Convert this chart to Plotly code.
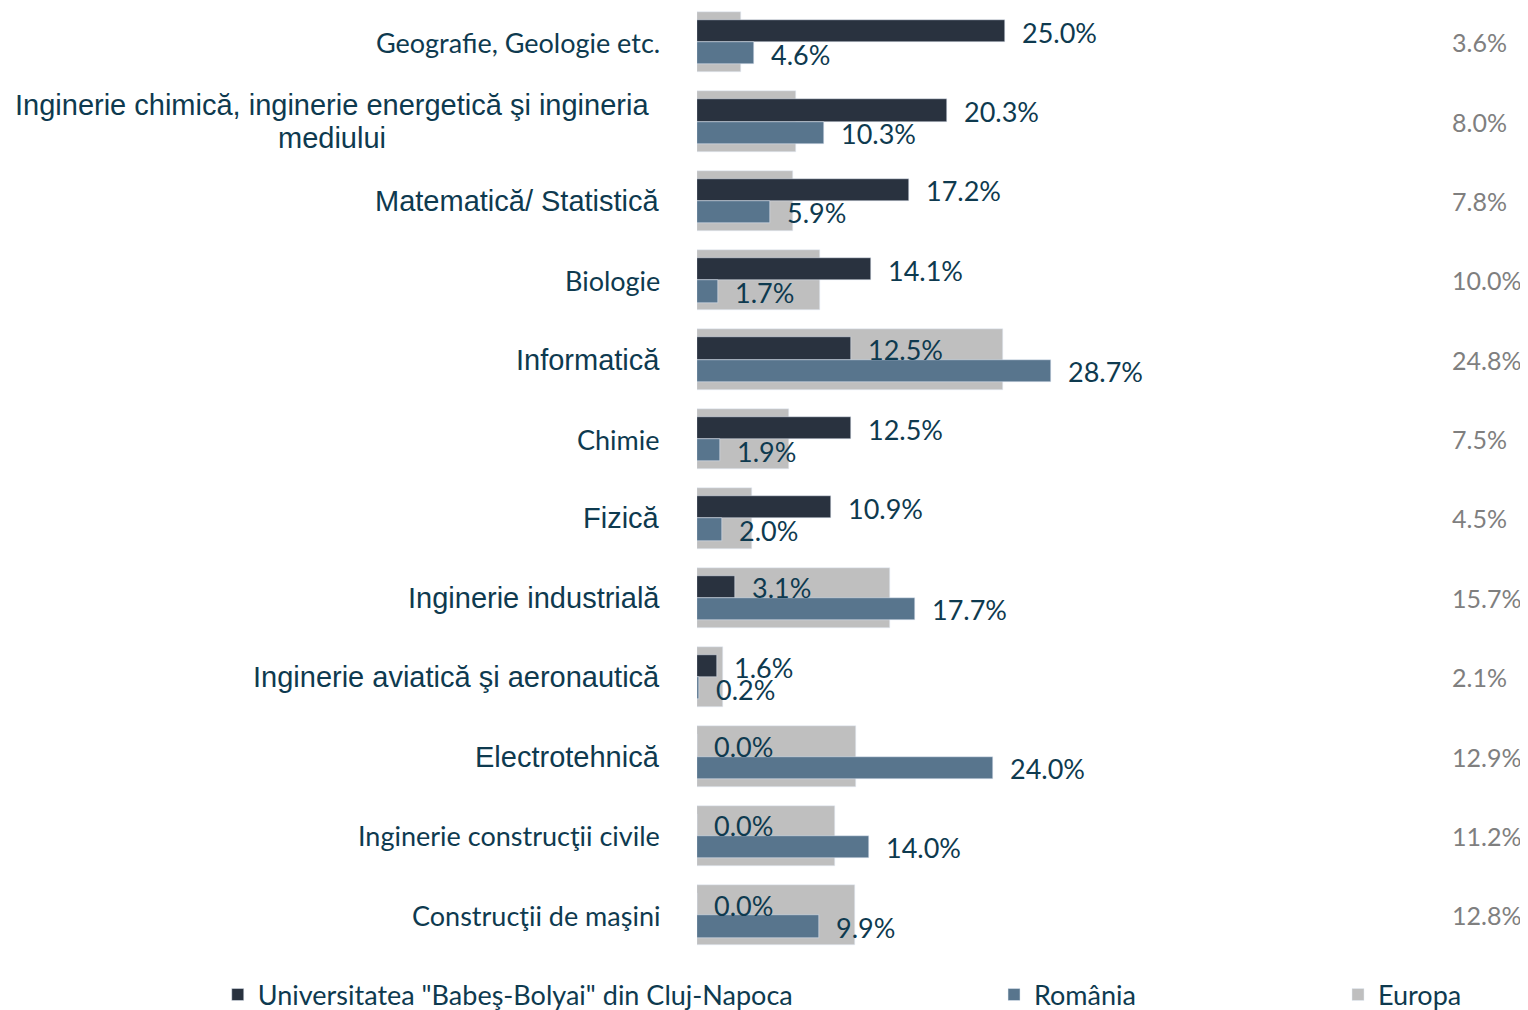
import plotly.graph_objects as go

# categories top to bottom
categories = [
    "Geografie, Geologie etc.",
    "Inginerie chimică, inginerie energetică şi ingineria<br>mediului",
    "Matematică/ Statistică",
    "Biologie",
    "Informatică",
    "Chimie",
    "Fizică",
    "Inginerie industrială",
    "Inginerie aviatică şi aeronautică",
    "Electrotehnică",
    "Inginerie construcţii civile",
    "Construcţii de maşini",
]
# labels that were set in Arial in the original
arial_label = [False, True, True, False, True, False, True, True, True, True, False, False]

ubb = [25.0, 20.3, 17.2, 14.1, 12.5, 12.5, 10.9, 3.1, 1.6, 0.0, 0.0, 0.0]
romania = [4.6, 10.3, 5.9, 1.7, 28.7, 1.9, 2.0, 17.7, 0.2, 24.0, 14.0, 9.9]
europa = [3.6, 8.0, 7.8, 10.0, 24.8, 7.5, 4.5, 15.7, 2.1, 12.9, 11.2, 12.8]

series_names = ['Universitatea "Babeş-Bolyai" din Cluj-Napoca', "România", "Europa"]

c_ubb = "#29323f"
c_ro = "#58758d"
c_eu = "#bfbfbf"
c_text = "#0e3a4f"
calibri = "Lato"
arial = "Liberation Sans"

fig = go.Figure()

fig.add_trace(go.Bar(y=categories, x=europa, orientation="h", name=series_names[2],
                     marker_color=c_eu, width=0.76, offset=-0.38, legend="legend3"))
fig.add_trace(go.Bar(y=categories, x=ubb, orientation="h", name=series_names[0],
                     marker_color=c_ubb, width=0.28, offset=-0.28, legend="legend"))
fig.add_trace(go.Bar(y=categories, x=romania, orientation="h", name=series_names[1],
                     marker_color=c_ro, width=0.28, offset=0.0, legend="legend2"))

annotations = []
for cat, a, u, r, e in zip(categories, arial_label, ubb, romania, europa):
    lab_font = dict(family=arial if a else calibri, size=29 if a else 27, color=c_text)
    # category label (two-line label is split so the line gap stays tight)
    lines = cat.split("<br>")
    if len(lines) == 1:
        annotations.append(dict(
            x=-0.042, xref="paper", y=cat, yref="y", text=cat, showarrow=False,
            xanchor="right", font=lab_font))
    else:
        for line, shift in zip(lines, [17, -16]):
            annotations.append(dict(
                x=-0.4392, xref="paper", y=cat, yref="y", text=line, showarrow=False,
                xanchor="center", yshift=shift, font=lab_font))
    # value labels
    annotations.append(dict(
        x=u, y=cat, text=f"{u:.1f}%", showarrow=False, xanchor="left",
        xshift=15, yshift=10, font=dict(family=calibri, size=27, color=c_text)))
    annotations.append(dict(
        x=r, y=cat, text=f"{r:.1f}%", showarrow=False, xanchor="left",
        xshift=15, yshift=-12, font=dict(family=calibri, size=27, color=c_text)))
    # europa label on the far right
    annotations.append(dict(
        x=0.906, xref="paper", y=cat, yref="y", text=f"{e:.1f}%", showarrow=False,
        xanchor="left", font=dict(family=calibri, size=25, color="#7f7f7f")))

legend_style = dict(orientation="h", xref="container", yref="container",
                    yanchor="middle", y=0.015, xanchor="left",
                    font=dict(family=calibri, size=27, color=c_text),
                    bgcolor="rgba(0,0,0,0)")

# page body has an 8px margin, so the figure is sized to fit inside the window
fig.update_layout(
    width=1520, height=1002,
    margin=dict(l=689, r=0, t=0, b=55),
    paper_bgcolor="white", plot_bgcolor="white",
    barmode="overlay",
    bargap=0,
    annotations=annotations,
    showlegend=True,
    legend=dict(x=0.138, **legend_style),
    legend2=dict(x=0.6487, **legend_style),
    legend3=dict(x=0.875, **legend_style),
)
fig.update_xaxes(range=[0, 67.45], visible=False, fixedrange=True)
fig.update_yaxes(range=[11.5, -0.43], autorange=False, showticklabels=False,
                 showgrid=False, zeroline=False, showline=False, ticks="")

fig.write_html("out.html")
